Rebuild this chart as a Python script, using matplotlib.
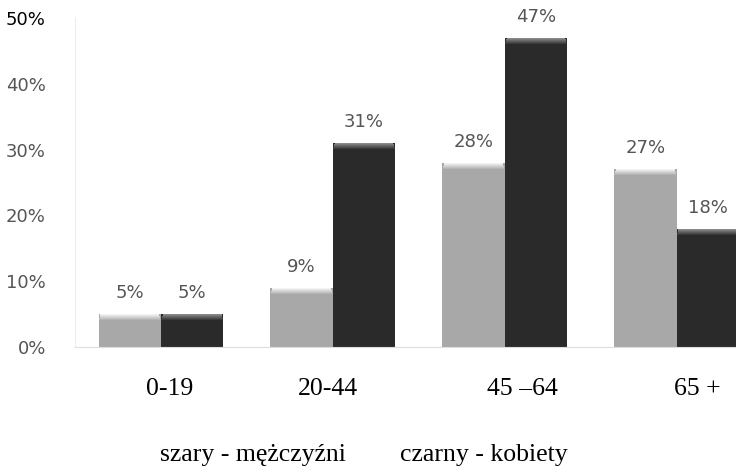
import numpy as np
import matplotlib.pyplot as plt

# Dane
grupy = ["0-19", "20-44", "45 \u201364", "65 +"]
mezczyzni = [5, 9, 28, 27]    # szary, %
kobiety = [5, 31, 47, 18]     # czarny, %
etykiety_y = ["0%", "10%", "20%", "30%", "40%", "50%"]

fig = plt.figure(figsize=(7.36, 4.68), dpi=100)
ax = fig.add_axes([0.102, 0.2585, 0.934, 0.703])

x = np.arange(len(grupy))
w = 0.363
px = 0.5 / 329   # jeden piksel w jednostkach osi y

# slupki z jasniejszym "fazowaniem" u gory
for dx, vals, kol, jasny in [(-w/2, mezczyzni, "#a8a8a8", "#f2f2f2"),
                             (w/2, kobiety, "#2a2a2a", "#8a8a8a")]:
    v = np.array(vals) / 100
    ax.bar(x + dx, v, w, color=kol, edgecolor="none", zorder=2)
    # gradient od jasnego do koloru slupka (ok. 7 px)
    c1 = np.array(plt.matplotlib.colors.to_rgb(jasny))
    c2 = np.array(plt.matplotlib.colors.to_rgb(kol))
    for i in range(7):
        t = i / 6
        ax.bar(x + dx, px, w * (0.94 + 0.06 * t), bottom=v - (i + 1) * px,
               color=c1 * (1 - t) + c2 * t, edgecolor="none", zorder=3)
    for xi, vi in zip(x + dx, vals):
        ax.text(xi, vi / 100 + 16 * px, f"{vi}%", ha="center", va="baseline",
                fontsize=13, color="#555555")

ax.set_xlim(-0.5, 3.5)
ax.set_ylim(0, 0.5)
ax.set_yticks(np.arange(0, 0.51, 0.1))
ax.set_yticklabels(etykiety_y, fontsize=13, color="#555555")
ax.get_yticklabels()[-1].set_color("black")
ax.tick_params(axis="y", length=0, pad=21)
ax.set_xticks([])

for s in ["top", "right"]:
    ax.spines[s].set_visible(False)
ax.spines["left"].set_color("#eeeeee")
ax.spines["bottom"].set_color("#dddddd")

# podpisy grup (czcionka szeryfowa, jak w oryginale)
poz_x = [170, 328, 522, 697]
for p, g in zip(poz_x, grupy):
    fig.text(p / 736, 1 - 395 / 468, g, ha="center", va="baseline",
             family="Liberation Serif", fontsize=18.5)

fig.text(160 / 736, 1 - 461 / 468, "szary - mężczyźni", ha="left", va="baseline",
         family="Liberation Serif", fontsize=18.5)
fig.text(400 / 736, 1 - 461 / 468, "czarny - kobiety", ha="left", va="baseline",
         family="Liberation Serif", fontsize=18.5)

fig.savefig("out.png", dpi=100)
